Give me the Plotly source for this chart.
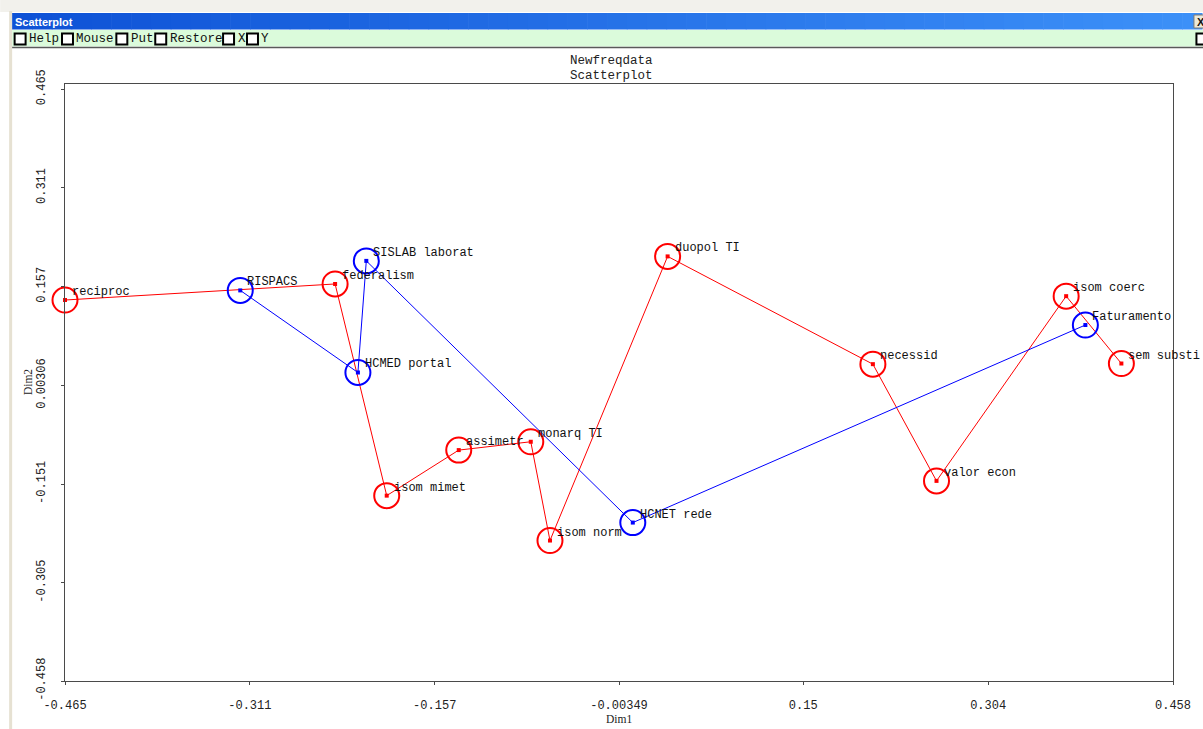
import plotly.graph_objects as go

# ---- data: correspondence-analysis coordinates ----
red_labels = ["reciproc", "federalism", "isom mimet", "assimetr", "monarq TI",
              "isom norm", "duopol TI", "necessid", "valor econ", "isom coerc",
              "sem substi"]
red_dim1 = [-0.465, -0.240, -0.197, -0.137, -0.077, -0.061, 0.037, 0.208,
            0.261, 0.369, 0.415]
red_dim2 = [0.136, 0.161, -0.169, -0.098, -0.085, -0.239, 0.204, 0.036,
            -0.146, 0.142, 0.037]

blue_labels = ["RISPACS", "HCMED portal", "SISLAB laborat", "HCNET rede",
               "Faturamento"]
blue_dim1 = [-0.319, -0.221, -0.214, 0.008, 0.385]
blue_dim2 = [0.151, 0.023, 0.197, -0.211, 0.097]

x_ticks = [-0.465, -0.311, -0.157, -0.00349, 0.15, 0.304, 0.458]
x_ticktext = ["-0.465", "-0.311", "-0.157", "-0.00349", "0.15", "0.304", "0.458"]
y_ticks = [0.465, 0.311, 0.157, 0.00306, -0.151, -0.305, -0.458]
y_ticktext = ["0.465", "0.311", "0.157", "0.00306", "-0.151", "-0.305", "-0.458"]

menu_items = ["Help", "Mouse", "Put", "Restore", "X", "Y"]

# ---- layout geometry (pixels) ----
W, H = 1203, 729
L, R, T, B = 65, 1176, 84, 681
MONO = "Liberation Mono"


def px(x):
    return (x - L) / (R - L)


def py(y):
    return (B - y) / (B - T)


RED = "#ff0000"
BLUE = "#0000ff"

fig = go.Figure()

# connecting lines
fig.add_trace(go.Scatter(x=red_dim1, y=red_dim2, mode="lines",
                         line=dict(color=RED, width=1), hoverinfo="skip"))
fig.add_trace(go.Scatter(x=blue_dim1, y=blue_dim2, mode="lines",
                         line=dict(color=BLUE, width=1), hoverinfo="skip"))

# open circles
fig.add_trace(go.Scatter(x=red_dim1, y=red_dim2, mode="markers", cliponaxis=False,
                         marker=dict(symbol="circle-open", size=25, color=RED,
                                     line=dict(width=2, color=RED))))
fig.add_trace(go.Scatter(x=blue_dim1, y=blue_dim2, mode="markers", cliponaxis=False,
                         marker=dict(symbol="circle-open", size=25, color=BLUE,
                                     line=dict(width=2, color=BLUE))))

# centre dots
fig.add_trace(go.Scatter(x=red_dim1, y=red_dim2, mode="markers", cliponaxis=False,
                         marker=dict(symbol="square", size=4, color=RED)))
fig.add_trace(go.Scatter(x=blue_dim1, y=blue_dim2, mode="markers", cliponaxis=False,
                         marker=dict(symbol="square", size=4, color=BLUE)))

annotations = []
for lab, xv, yv in list(zip(red_labels, red_dim1, red_dim2)) + \
        list(zip(blue_labels, blue_dim1, blue_dim2)):
    annotations.append(dict(x=xv, y=yv, xref="x", yref="y", text=lab,
                            showarrow=False, xanchor="left", yanchor="middle",
                            xshift=5, yshift=8,
                            font=dict(family=MONO, size=12, color="#111111")))

# chart titles
annotations.append(dict(x=px(613), y=py(61), xref="paper", yref="paper",
                        text="Newfreqdata", showarrow=False, xanchor="center",
                        yanchor="middle",
                        font=dict(family=MONO, size=12.5, color="#222222")))
annotations.append(dict(x=px(613), y=py(76), xref="paper", yref="paper",
                        text="Scatterplot", showarrow=False, xanchor="center",
                        yanchor="middle",
                        font=dict(family=MONO, size=12.5, color="#222222")))

# axis titles
annotations.append(dict(x=px(620), y=py(719), xref="paper", yref="paper",
                        text="Dim1", showarrow=False, xanchor="center",
                        yanchor="middle",
                        font=dict(family="Liberation Serif", size=11.5,
                                  color="#222222")))
annotations.append(dict(x=px(28), y=py(382), xref="paper", yref="paper",
                        text="Dim2", showarrow=False, xanchor="center",
                        yanchor="middle", textangle=-90,
                        font=dict(family="Liberation Serif", size=11.5,
                                  color="#222222")))

shapes = []

# window frame
shapes.append(dict(type="rect", xref="paper", yref="paper",
                   x0=px(0), x1=px(W + 5), y0=py(0), y1=py(12),
                   fillcolor="#f2f1ec", line=dict(width=0), layer="above"))
shapes.append(dict(type="rect", xref="paper", yref="paper",
                   x0=px(9), x1=px(12), y0=py(11), y1=py(H + 5),
                   fillcolor="#e6e1d2", line=dict(width=0), layer="above"))

# title bar gradient
n_strips = 60
x_start, x_end = 12, W + 2
c0 = (14, 82, 214)
c1 = (60, 144, 248)
for i in range(n_strips):
    f = i / (n_strips - 1)
    col = tuple(int(round(c0[k] + (c1[k] - c0[k]) * f)) for k in range(3))
    xa = x_start + (x_end - x_start) * i / n_strips
    xb = x_start + (x_end - x_start) * (i + 1) / n_strips + 0.6
    shapes.append(dict(type="rect", xref="paper", yref="paper",
                       x0=px(xa), x1=px(xb), y0=py(13), y1=py(29.5),
                       fillcolor="rgb(%d,%d,%d)" % col, line=dict(width=0),
                       layer="above"))
annotations.append(dict(x=px(13), y=py(21.5), xref="paper", yref="paper",
                        text="<b>Scatterplot</b>", showarrow=False,
                        xanchor="left", yanchor="middle",
                        font=dict(family="Liberation Sans", size=11,
                                  color="white")))
# close button
shapes.append(dict(type="rect", xref="paper", yref="paper",
                   x0=px(1197), x1=px(1212), y0=py(15), y1=py(28),
                   fillcolor="#ece9d8", line=dict(color="#7a7a7a", width=1),
                   layer="above"))
annotations.append(dict(x=px(1198), y=py(21.5), xref="paper", yref="paper",
                        text="<b>X</b>", showarrow=False, xanchor="left",
                        yanchor="middle",
                        font=dict(family="Liberation Sans", size=11,
                                  color="#111111")))

# menu bar
shapes.append(dict(type="rect", xref="paper", yref="paper",
                   x0=px(12), x1=px(W + 5), y0=py(30), y1=py(46.5),
                   fillcolor="#dbfbdb", line=dict(width=0), layer="above"))
shapes.append(dict(type="line", xref="paper", yref="paper",
                   x0=px(12), x1=px(W + 5), y0=py(47.5), y1=py(47.5),
                   line=dict(color="#5a5a5a", width=1.5), layer="above"))

box_x = [14.5, 62, 116.5, 155.5, 223.5, 247.5]
for item, bx in zip(menu_items, box_x):
    shapes.append(dict(type="rect", xref="paper", yref="paper",
                       x0=px(bx), x1=px(bx + 11), y0=py(33.5), y1=py(44.5),
                       fillcolor="white", line=dict(color="#000000", width=2),
                       layer="above"))
    annotations.append(dict(x=px(bx + 12.5), y=py(39), xref="paper",
                            yref="paper", text=item, showarrow=False,
                            xanchor="left", yanchor="middle",
                            font=dict(family=MONO, size=12.5, color="#111111")))
shapes.append(dict(type="rect", xref="paper", yref="paper",
                   x0=px(1199.5), x1=px(1210), y0=py(33.5), y1=py(44.5),
                   fillcolor="white", line=dict(color="#000000", width=2),
                   layer="above"))

axis_common = dict(showgrid=False, zeroline=False, showline=True, mirror=True,
                   linecolor="#4a4a4a", linewidth=1, ticks="outside",
                   ticklen=3, tickcolor="#4a4a4a",
                   tickfont=dict(family=MONO, size=12, color="#222222"))

fig.update_layout(
    width=W, height=H, autosize=False,
    margin=dict(l=L, r=W - R, t=T, b=H - B, pad=0),
    paper_bgcolor="white", plot_bgcolor="white",
    showlegend=False,
    xaxis=dict(range=[-0.465, 0.458], tickvals=x_ticks, ticktext=x_ticktext,
               ticklabelstandoff=10, **axis_common),
    yaxis=dict(range=[-0.458, 0.4728], tickvals=y_ticks, ticktext=y_ticktext,
               tickangle=-90, ticklabelstandoff=11, **axis_common),
    annotations=annotations,
    shapes=shapes,
)

fig.write_html("out.html")
